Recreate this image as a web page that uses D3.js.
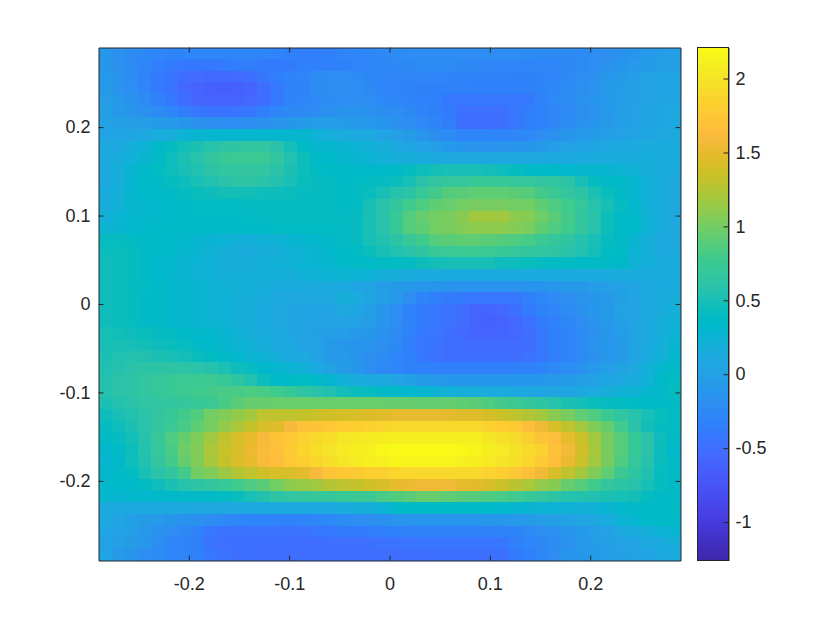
<!DOCTYPE html>
<html>
<head>
<meta charset="utf-8">
<script src="https://cdnjs.cloudflare.com/ajax/libs/d3/7.8.5/d3.min.js"></script>
<style>
body { margin: 0; background: #fff; }
text { font-family: "Liberation Sans", Arial, sans-serif; }
svg { opacity: 0.999; }
</style>
</head>
<body>
<div id="chart"></div>
<script>
const xTicks = [-0.2, -0.1, 0, 0.1, 0.2]
const yTicks = [-0.2, -0.1, 0, 0.1, 0.2]
const colorTicks = [-1, -0.5, 0, 0.5, 1, 1.5, 2]
const xRange = [-0.29, 0.29]
const yRange = [-0.29, 0.29]
const colorRange = [-1.26, 2.21]

// parula
const parula = [
    [0.2422,0.1504,0.6603],[0.2504,0.1650,0.7076],[0.2578,0.1818,0.7511],[0.2647,0.1978,0.7952],
    [0.2706,0.2147,0.8364],[0.2751,0.2342,0.8710],[0.2783,0.2559,0.8991],[0.2803,0.2782,0.9221],
    [0.2813,0.3006,0.9414],[0.2810,0.3228,0.9579],[0.2795,0.3447,0.9717],[0.2760,0.3667,0.9829],
    [0.2699,0.3892,0.9906],[0.2602,0.4123,0.9952],[0.2440,0.4358,0.9988],[0.2206,0.4603,0.9973],
    [0.1963,0.4847,0.9892],[0.1834,0.5074,0.9798],[0.1786,0.5289,0.9682],[0.1764,0.5499,0.9520],
    [0.1687,0.5703,0.9359],[0.1540,0.5902,0.9218],[0.1460,0.6091,0.9079],[0.1380,0.6276,0.8973],
    [0.1248,0.6459,0.8883],[0.1113,0.6635,0.8763],[0.0952,0.6798,0.8598],[0.0689,0.6948,0.8394],
    [0.0297,0.7082,0.8163],[0.0036,0.7203,0.7917],[0.0067,0.7312,0.7660],[0.0433,0.7411,0.7394],
    [0.0964,0.7500,0.7120],[0.1408,0.7584,0.6842],[0.1717,0.7670,0.6554],[0.1938,0.7758,0.6251],
    [0.2161,0.7843,0.5923],[0.2470,0.7918,0.5567],[0.2906,0.7973,0.5188],[0.3406,0.8008,0.4789],
    [0.3909,0.8029,0.4354],[0.4456,0.8024,0.3909],[0.5044,0.7993,0.3480],[0.5616,0.7942,0.3045],
    [0.6174,0.7876,0.2612],[0.6720,0.7793,0.2227],[0.7242,0.7698,0.1910],[0.7738,0.7598,0.1646],
    [0.8203,0.7498,0.1535],[0.8634,0.7406,0.1596],[0.9035,0.7330,0.1774],[0.9393,0.7288,0.2100],
    [0.9728,0.7298,0.2394],[0.9956,0.7434,0.2371],[0.9970,0.7659,0.2199],[0.9952,0.7893,0.2028],
    [0.9892,0.8136,0.1885],[0.9786,0.8386,0.1766],[0.9676,0.8639,0.1643],[0.9610,0.8890,0.1537],
    [0.9597,0.9135,0.1423],[0.9628,0.9373,0.1265],[0.9691,0.9606,0.1064],[0.9769,0.9839,0.0805]
].map(c => d3.rgb(c[0] * 255, c[1] * 255, c[2] * 255))

// top row first
const heat = [
[-.1,-.15,-.22,-.25,-.28,-.3,-.3,-.28,-.28,-.28,-.28,-.28,-.28,-.3,-.33,-.36,-.36,-.34,-.3,-.28,-.26,-.24,-.22,-.2,-.2,-.2,-.2,-.2,-.2,-.2,-.2,-.2,-.22,-.24,-.24,-.24,-.22,-.2,-.18,-.15,-.12,-.08,-.04,0],
[-.1,-.15,-.22,-.28,-.35,-.38,-.4,-.4,-.4,-.38,-.36,-.36,-.38,-.4,-.38,-.34,-.34,-.34,-.33,-.3,-.28,-.27,-.25,-.24,-.22,-.22,-.22,-.24,-.26,-.28,-.28,-.28,-.28,-.28,-.28,-.26,-.24,-.2,-.15,-.12,-.08,-.05,-.02,0],
[-.08,-.14,-.22,-.3,-.38,-.45,-.5,-.52,-.55,-.55,-.52,-.48,-.42,-.36,-.3,-.28,-.22,-.2,-.2,-.22,-.26,-.28,-.28,-.28,-.28,-.28,-.3,-.3,-.32,-.32,-.32,-.33,-.33,-.3,-.28,-.25,-.2,-.15,-.1,-.05,-.02,.02,.05,.05],
[-.06,-.14,-.2,-.28,-.38,-.45,-.55,-.6,-.62,-.65,-.62,-.58,-.5,-.4,-.32,-.3,-.22,-.18,-.18,-.2,-.24,-.28,-.3,-.32,-.33,-.33,-.33,-.33,-.34,-.34,-.34,-.34,-.33,-.3,-.27,-.22,-.18,-.14,-.08,-.04,0,.03,.05,.06],
[-.03,-.08,-.16,-.22,-.32,-.4,-.5,-.57,-.6,-.6,-.58,-.55,-.5,-.4,-.3,-.28,-.25,-.22,-.2,-.18,-.2,-.25,-.28,-.3,-.32,-.34,-.4,-.42,-.42,-.42,-.42,-.42,-.4,-.32,-.25,-.22,-.16,-.12,-.08,-.04,0,.04,.06,.08],
[0,-.06,-.12,-.15,-.22,-.28,-.36,-.42,-.45,-.46,-.44,-.42,-.34,-.28,-.24,-.24,-.2,-.15,-.13,-.13,-.15,-.18,-.2,-.24,-.3,-.33,-.38,-.48,-.48,-.48,-.48,-.42,-.36,-.32,-.28,-.24,-.18,-.14,-.08,-.03,.02,.06,.08,.1],
[.02,-.02,-.03,-.03,-.05,-.08,-.12,-.16,-.18,-.2,-.2,-.18,-.16,-.14,-.1,-.06,-.04,-.03,-.04,-.06,-.08,-.12,-.15,-.2,-.25,-.3,-.36,-.48,-.5,-.5,-.48,-.42,-.36,-.32,-.26,-.22,-.16,-.12,-.06,-.02,.02,.06,.08,.1],
[.05,.05,.08,.1,.15,.18,.25,.28,.3,.3,.3,.3,.3,.3,.3,.3,.25,.2,.15,.12,.1,.05,0,-.05,-.12,-.18,-.22,-.28,-.3,-.3,-.3,-.28,-.25,-.2,-.16,-.12,-.08,-.04,0,.02,.05,.08,.1,.12],
[.1,.12,.18,.25,.35,.42,.48,.52,.58,.62,.64,.66,.66,.6,.48,.38,.3,.3,.28,.25,.22,.18,.12,.08,.02,-.03,-.08,-.12,-.14,-.14,-.14,-.12,-.1,-.06,-.02,.02,.05,.08,.1,.12,.14,.15,.15,.15],
[.12,.15,.22,.28,.38,.45,.52,.58,.66,.72,.74,.74,.74,.66,.55,.45,.36,.34,.3,.28,.25,.22,.2,.18,.15,.12,.1,.1,.1,.1,.1,.1,.1,.1,.12,.12,.14,.15,.15,.16,.17,.17,.16,.15],
[.12,.2,.28,.35,.4,.45,.5,.54,.62,.66,.68,.68,.66,.6,.52,.45,.4,.38,.36,.36,.34,.35,.38,.42,.45,.48,.5,.5,.5,.48,.46,.42,.38,.36,.35,.32,.3,.3,.28,.26,.22,.18,.16,.12],
[.1,.18,.3,.35,.38,.42,.45,.5,.55,.6,.62,.62,.6,.56,.5,.44,.42,.4,.38,.4,.4,.42,.44,.5,.6,.66,.7,.7,.72,.72,.72,.7,.7,.66,.66,.62,.5,.42,.38,.36,.3,.22,.16,.1],
[.15,.2,.3,.34,.36,.38,.42,.44,.46,.48,.48,.48,.46,.46,.44,.42,.42,.42,.38,.4,.44,.5,.58,.62,.72,.8,.88,.9,.92,.92,.92,.9,.88,.8,.75,.68,.62,.52,.44,.38,.3,.22,.15,.1],
[.18,.22,.3,.32,.34,.36,.38,.4,.4,.4,.4,.42,.42,.42,.42,.42,.42,.42,.38,.4,.5,.6,.68,.78,.85,.92,.96,1,1.02,1.02,1.02,1,1,.92,.85,.78,.7,.58,.5,.42,.32,.22,.15,.1],
[.22,.25,.3,.32,.34,.36,.38,.38,.38,.38,.38,.4,.4,.42,.42,.42,.42,.42,.4,.42,.5,.6,.72,.88,.95,1,1.03,1.08,1.18,1.18,1.18,1.1,1.08,.98,.9,.8,.68,.6,.45,.38,.34,.24,.16,.1],
[.26,.28,.32,.34,.36,.36,.36,.36,.36,.36,.38,.38,.38,.4,.4,.4,.4,.4,.4,.42,.5,.6,.72,.88,.92,1,1.02,1.06,1.1,1.1,1.1,1.06,1.03,.92,.85,.78,.68,.58,.45,.38,.34,.24,.16,.1],
[.42,.42,.4,.38,.36,.34,.32,.3,.27,.25,.22,.2,.22,.24,.28,.3,.32,.36,.4,.42,.5,.55,.62,.72,.78,.88,.9,.92,.92,.9,.88,.85,.82,.75,.7,.64,.58,.5,.42,.38,.28,.2,.14,.1],
[.44,.44,.42,.38,.36,.34,.3,.28,.24,.2,.17,.16,.18,.2,.24,.26,.28,.32,.38,.4,.44,.5,.54,.6,.65,.72,.74,.75,.75,.74,.72,.7,.68,.66,.64,.6,.55,.48,.4,.38,.26,.2,.14,.12],
[.46,.44,.42,.38,.34,.32,.28,.26,.22,.2,.18,.18,.2,.22,.24,.26,.28,.3,.36,.38,.38,.4,.4,.42,.45,.48,.5,.5,.5,.5,.46,.46,.44,.42,.4,.4,.38,.38,.36,.35,.24,.2,.16,.14],
[.46,.44,.42,.38,.34,.3,.28,.26,.22,.2,.2,.2,.2,.2,.2,.22,.24,.26,.26,.26,.25,.2,.18,.16,.14,.14,.13,.13,.13,.13,.13,.13,.14,.14,.14,.14,.14,.14,.14,.15,.16,.16,.15,.14],
[.46,.44,.42,.4,.36,.32,.3,.28,.26,.24,.22,.2,.18,.16,.15,.14,.14,.14,.12,.08,.04,-.02,-.05,-.08,-.1,-.12,-.13,-.14,-.14,-.14,-.14,-.14,-.13,-.12,-.1,-.08,-.06,-.03,0,.03,.08,.12,.14,.16],
[.46,.44,.42,.38,.36,.32,.3,.28,.26,.24,.2,.18,.15,.12,.1,.1,.1,.1,.18,.15,.08,0,-.08,-.2,-.3,-.35,-.38,-.4,-.42,-.42,-.42,-.42,-.34,-.28,-.22,-.18,-.14,-.1,-.06,0,.05,.1,.15,.18],
[.46,.44,.42,.38,.36,.32,.3,.28,.26,.24,.2,.18,.14,.1,.08,.06,.05,.05,.1,.06,0,-.1,-.2,-.32,-.38,-.42,-.45,-.5,-.58,-.58,-.55,-.48,-.38,-.32,-.28,-.22,-.15,-.1,-.05,.02,.04,.1,.16,.2],
[.46,.44,.42,.38,.36,.32,.3,.28,.26,.24,.2,.18,.14,.1,.06,.04,.03,.03,.05,.02,-.03,-.1,-.2,-.3,-.38,-.42,-.46,-.52,-.6,-.62,-.6,-.55,-.48,-.38,-.32,-.26,-.2,-.14,-.08,-.02,.05,.1,.18,.22],
[.5,.48,.46,.44,.42,.4,.36,.34,.32,.28,.24,.2,.16,.12,.08,.04,0,-.02,-.03,-.06,-.1,-.16,-.22,-.32,-.4,-.44,-.48,-.54,-.58,-.6,-.58,-.55,-.5,-.42,-.35,-.3,-.22,-.16,-.1,-.04,.04,.1,.18,.24],
[.5,.5,.5,.48,.46,.44,.42,.38,.34,.3,.26,.22,.18,.14,.1,.05,.02,-.05,-.1,-.12,-.14,-.18,-.25,-.34,-.42,-.45,-.5,-.5,-.52,-.52,-.52,-.52,-.5,-.42,-.34,-.3,-.22,-.14,-.1,-.05,.05,.14,.2,.28],
[.52,.54,.56,.55,.52,.5,.48,.44,.4,.36,.32,.26,.24,.18,.12,.1,.04,-.05,-.08,-.12,-.18,-.22,-.28,-.35,-.42,-.46,-.5,-.5,-.5,-.5,-.5,-.5,-.46,-.42,-.36,-.3,-.24,-.16,-.1,-.05,.05,.14,.22,.3],
[.54,.56,.6,.62,.62,.62,.62,.6,.56,.52,.46,.42,.34,.3,.26,.22,.12,.04,-.05,-.1,-.18,-.24,-.28,-.32,-.34,-.34,-.34,-.34,-.34,-.34,-.34,-.34,-.32,-.3,-.25,-.2,-.15,-.08,-.02,.04,.1,.2,.3,.35],
[.56,.6,.62,.66,.7,.72,.75,.75,.76,.72,.65,.55,.45,.35,.38,.4,.36,.3,.22,.16,.12,.1,.05,0,-.05,-.08,-.1,-.1,-.1,-.1,-.1,-.1,-.1,-.1,-.08,-.05,-.02,.02,.06,.1,.15,.22,.35,.4],
[.56,.6,.62,.66,.7,.72,.76,.78,.8,.82,.82,.84,.82,.78,.72,.65,.6,.54,.48,.44,.42,.38,.35,.32,.3,.26,.22,.2,.18,.16,.14,.12,.1,.08,.08,.08,.1,.14,.18,.22,.26,.3,.36,.42],
[.52,.56,.6,.64,.66,.68,.7,.72,.75,.82,.9,.95,.95,.96,.96,.96,.96,.96,.96,.96,.96,.96,.95,.95,.94,.94,.94,.92,.9,.85,.8,.76,.7,.65,.58,.52,.48,.44,.42,.4,.39,.38,.38,.38],
[.46,.5,.55,.6,.66,.72,.8,.86,1,1.05,1.12,1.18,1.3,1.3,1.3,1.32,1.35,1.38,1.4,1.42,1.44,1.46,1.5,1.5,1.5,1.5,1.48,1.45,1.45,1.4,1.35,1.3,1.25,1.18,1.08,1.02,.92,.85,.75,.66,.58,.5,.44,.4],
[.42,.46,.52,.6,.68,.74,.82,.92,1.02,1.12,1.22,1.32,1.42,1.46,1.6,1.7,1.72,1.75,1.8,1.82,1.85,1.87,1.9,1.9,1.9,1.9,1.9,1.9,1.9,1.85,1.8,1.78,1.66,1.55,1.42,1.3,1.18,1.05,.95,.78,.6,.48,.42,.4],
[.38,.42,.48,.58,.7,.85,.95,1.05,1.18,1.3,1.42,1.5,1.6,1.7,1.75,1.85,1.9,1.95,2.02,2.04,2.06,2.08,2.1,2.1,2.1,2.1,2.1,2.1,2.1,2.02,1.98,1.92,1.82,1.72,1.65,1.5,1.35,1.18,1.02,.88,.72,.6,.46,.38],
[.33,.38,.45,.56,.7,.82,.98,1.06,1.22,1.33,1.42,1.52,1.62,1.68,1.78,1.88,1.94,2,2.05,2.1,2.12,2.18,2.2,2.2,2.2,2.2,2.2,2.18,2.15,2.1,2.05,1.98,1.92,1.85,1.7,1.58,1.38,1.2,1.02,.88,.72,.6,.44,.35],
[.3,.35,.45,.55,.68,.8,.95,1.05,1.2,1.32,1.42,1.5,1.62,1.66,1.75,1.82,1.88,1.95,2.02,2.06,2.1,2.12,2.15,2.15,2.15,2.15,2.15,2.12,2.1,2.05,2,1.95,1.88,1.78,1.68,1.52,1.35,1.18,1.02,.86,.7,.58,.44,.36],
[.33,.36,.4,.5,.6,.68,.8,1,1.05,1.15,1.25,1.3,1.38,1.42,1.42,1.48,1.6,1.72,1.76,1.78,1.82,1.84,1.88,1.9,1.9,1.9,1.9,1.9,1.9,1.85,1.8,1.75,1.68,1.55,1.42,1.3,1.18,1.05,.92,.76,.65,.55,.42,.38],
[.32,.34,.36,.4,.46,.52,.58,.62,.68,.72,.78,.85,.9,1,1.1,1.14,1.18,1.25,1.3,1.32,1.38,1.42,1.5,1.52,1.55,1.55,1.55,1.5,1.48,1.42,1.35,1.28,1.22,1.12,1.08,.95,.88,.78,.68,.62,.58,.5,.42,.38],
[.3,.3,.32,.32,.34,.34,.36,.38,.38,.4,.44,.5,.56,.62,.66,.68,.7,.7,.72,.74,.74,.82,.86,.9,.95,.95,.92,.9,.88,.85,.82,.78,.72,.68,.62,.58,.56,.54,.52,.5,.48,.42,.38,.36],
[.12,.12,.12,.12,.12,.12,.1,.1,.1,.1,.1,.12,.12,.14,.12,.12,.12,.14,.15,.18,.2,.25,.36,.38,.38,.38,.38,.36,.36,.34,.32,.3,.28,.26,.25,.24,.22,.24,.28,.32,.36,.38,.38,.38],
[.1,.08,0,-.05,-.08,-.12,-.15,-.15,-.2,-.25,-.28,-.3,-.3,-.3,-.32,-.3,-.28,-.25,-.22,-.2,-.18,-.16,-.14,-.13,-.12,-.12,-.12,-.12,-.12,-.1,-.1,-.08,-.06,-.03,0,.02,.05,.1,.15,.25,.3,.36,.36,.36],
[.05,.02,-.02,-.08,-.15,-.2,-.25,-.32,-.42,-.45,-.45,-.45,-.45,-.45,-.45,-.45,-.42,-.4,-.38,-.38,-.36,-.34,-.33,-.32,-.32,-.32,-.32,-.32,-.32,-.32,-.3,-.3,-.25,-.2,-.15,-.1,-.08,-.02,.02,.1,.15,.2,.25,.28],
[.02,0,-.05,-.1,-.2,-.28,-.3,-.35,-.45,-.48,-.48,-.48,-.48,-.48,-.5,-.5,-.5,-.48,-.48,-.48,-.48,-.46,-.46,-.44,-.44,-.44,-.44,-.44,-.44,-.44,-.42,-.35,-.3,-.26,-.22,-.15,-.08,-.04,0,.02,.05,.1,.14,.18],
[.05,-.05,-.12,-.2,-.22,-.28,-.28,-.32,-.42,-.45,-.48,-.48,-.5,-.5,-.5,-.5,-.5,-.5,-.5,-.5,-.5,-.5,-.5,-.5,-.5,-.48,-.48,-.48,-.48,-.48,-.47,-.38,-.34,-.28,-.2,-.12,-.1,-.05,-.02,0,.02,.05,.1,.14]
]

const WIDTH = 840
const HEIGHT = 630
const plot = { left: 98.5, right: 680.5, top: 47.5, bottom: 560.5 }
const bar = { left: 697.5, right: 728.5 }
const INK = "#262626"
const FONT_SIZE = 18

const svg = d3.select("#chart")
    .append("svg")
    .attr("width", WIDTH)
    .attr("height", HEIGHT)
    .attr("viewBox", [0, 0, WIDTH, HEIGHT])

let x = d3.scaleLinear().domain(xRange).range([plot.left, plot.right])
let y = d3.scaleLinear().domain(yRange).range([plot.bottom, plot.top])
let colBand = d3.scaleBand().domain(d3.range(heat[0].length)).range([plot.left, plot.right])
let rowBand = d3.scaleBand().domain(d3.range(heat.length)).range([plot.top, plot.bottom])
let color = d3.scaleSequential(d3.piecewise(d3.interpolateRgb, parula)).domain(colorRange).clamp(true)
let barY = d3.scaleLinear().domain(colorRange).range([plot.bottom, plot.top])

let cells = []
heat.forEach((row, r) => row.forEach((v, c) => cells.push({ r: r, c: c, v: v })))

svg.append("g")
    .attr("shape-rendering", "crispEdges")
    .selectAll("rect")
    .data(cells)
    .join("rect")
        .attr("x", d => colBand(d.c))
        .attr("y", d => rowBand(d.r))
        .attr("width", colBand.bandwidth() + 0.5)
        .attr("height", rowBand.bandwidth() + 0.5)
        .attr("fill", d => color(d.v))

// colorbar strip
let levels = d3.range(256).map(i => colorRange[0] + (colorRange[1] - colorRange[0]) * i / 256)
let levelStep = (colorRange[1] - colorRange[0]) / 256

svg.append("g")
    .attr("shape-rendering", "crispEdges")
    .selectAll("rect")
    .data(levels)
    .join("rect")
        .attr("x", bar.left)
        .attr("width", bar.right - bar.left)
        .attr("y", d => barY(d + levelStep))
        .attr("height", d => barY(d) - barY(d + levelStep) + 0.5)
        .attr("fill", d => color(d + levelStep / 2))

function styleAxis(g) {
    g.selectAll("path").attr("stroke", INK).attr("stroke-width", 1)
    g.selectAll("line").attr("stroke", INK).attr("stroke-width", 1)
    g.selectAll("text")
        .attr("fill", INK)
        .attr("font-size", FONT_SIZE)
        .attr("font-family", '"Liberation Sans", Arial, sans-serif')
}

function axisGroup(axis, tx, ty) {
    return svg.append("g")
        .attr("transform", `translate(${tx} ${ty})`)
        .call(axis)
        .call(styleAxis)
}

const TICK = 5
let fmt = d => String(d)

let bottom = axisGroup(d3.axisBottom(x).tickValues(xTicks).tickFormat(fmt).tickSizeInner(-TICK).tickSizeOuter(0), 0, plot.bottom)
bottom.selectAll("text").attr("y", 17).attr("dy", "0.71em")
let left = axisGroup(d3.axisLeft(y).tickValues(yTicks).tickFormat(fmt).tickSizeInner(-TICK).tickSizeOuter(0), plot.left, 0)
left.selectAll("text").attr("x", -8)

// box on: mirrored ticks, no labels
axisGroup(d3.axisTop(x).tickValues(xTicks).tickFormat("").tickSizeInner(-TICK).tickSizeOuter(0), 0, plot.top)
axisGroup(d3.axisRight(y).tickValues(yTicks).tickFormat("").tickSizeInner(-TICK).tickSizeOuter(0), plot.right, 0)

let barAxis = axisGroup(d3.axisRight(barY).tickValues(colorTicks).tickFormat(fmt).tickSizeInner(-5).tickSizeOuter(0), bar.right, 0)
barAxis.selectAll("text").attr("x", 7)

svg.append("rect")
    .attr("x", bar.left)
    .attr("y", plot.top)
    .attr("width", bar.right - bar.left)
    .attr("height", plot.bottom - plot.top)
    .attr("fill", "none")
    .attr("stroke", INK)
    .attr("stroke-width", 1)
</script>
</body>
</html>
